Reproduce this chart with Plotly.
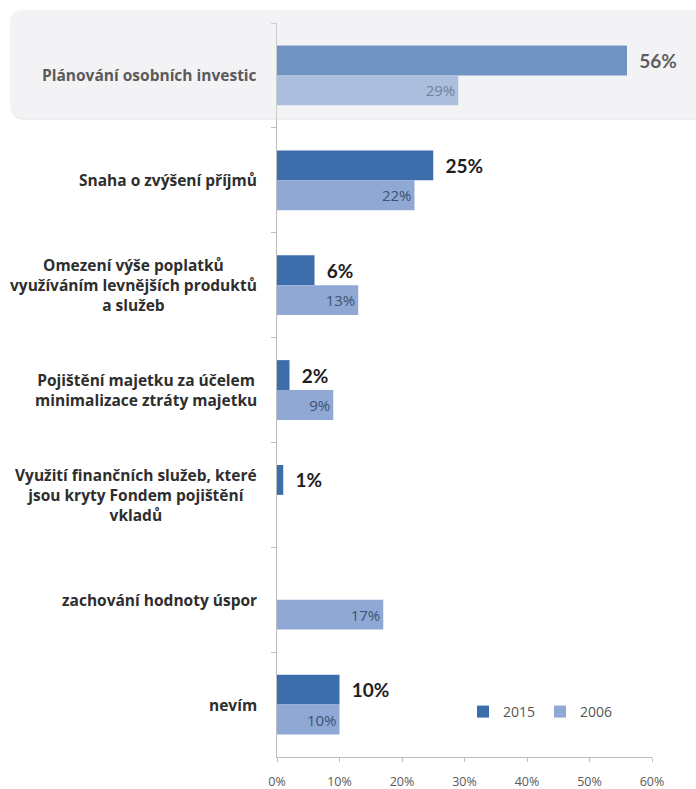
import plotly.graph_objects as go

# Survey answers (category labels, top to bottom)
categories = [
    "Plánování osobních investic",
    "Snaha o zvýšení příjmů",
    "Omezení výše poplatků<br>využíváním levnějších produktů<br>a služeb",
    "Pojištění majetku za účelem<br>minimalizace ztráty majetku",
    "Využití finančních služeb, které<br>jsou kryty Fondem pojištění<br>vkladů",
    "zachování hodnoty úspor",
    "nevím",
]
# Share of respondents in percent (None = not asked that year)
values_2015 = [56, 25, 6, 2, 1, None, 10]
values_2006 = [29, 22, 13, 9, None, 17, 10]
x_ticks = [0, 10, 20, 30, 40, 50, 60]

W, H = 696, 789
L, R, T, B = 277, 44, 23, 32
PW, PH = W - L - R, H - T - B

FONT = "Lato, 'DejaVu Sans', sans-serif"
LABEL_FONT = "'Open Sans', 'DejaVu Sans', sans-serif"
C2015 = "#3d6eac"
C2006 = "#8fa9d4"


def fx(px):
    return (px - L) / PW


def fy(py):
    return (H - B - py) / PH


def rounded_box(x0, y0, x1, y1, r):
    return (
        f"M {fx(x0 + r)},{fy(y0)} L {fx(x1)},{fy(y0)} L {fx(x1)},{fy(y1)} "
        f"L {fx(x0 + r)},{fy(y1)} Q {fx(x0)},{fy(y1)} {fx(x0)},{fy(y1 - r)} "
        f"L {fx(x0)},{fy(y0 + r)} Q {fx(x0)},{fy(y0)} {fx(x0 + r)},{fy(y0)} Z"
    )


def outside_text(vals):
    return ["\u00a0\u00a0%d%%" % v if v is not None else "" for v in vals]


def inside_text(vals):
    return ["%d%%" % v if v is not None else "" for v in vals]


fig = go.Figure()
fig.add_trace(go.Bar(
    name="2015", y=categories, x=values_2015, orientation="h",
    marker=dict(color=C2015, line=dict(width=0)),
    text=outside_text(values_2015), textposition="outside",
    textfont=dict(family=FONT, size=19, color="#1e1e1e", weight="bold"),
    cliponaxis=False, constraintext="none",
))
fig.add_trace(go.Bar(
    name="2006", y=categories, x=values_2006, orientation="h",
    marker=dict(color=C2006, line=dict(width=0)),
    text=inside_text(values_2006), textposition="inside", insidetextanchor="end",
    textfont=dict(family=LABEL_FONT, size=15, color="#3d5274"),
    constraintext="none",
))

# Highlight panel behind the first answer, with a soft fade over it
shapes = [
    dict(type="path", xref="paper", yref="paper", layer="below",
         path=rounded_box(11, 11, 720, 120, 14),
         fillcolor="#eeeef0", line=dict(width=0)),
    dict(type="path", xref="paper", yref="paper", layer="below",
         path=rounded_box(10, 10, 720, 118, 14),
         fillcolor="#f5f5f7", line=dict(width=0)),
    dict(type="path", xref="paper", yref="paper", layer="above",
         path=rounded_box(10, 10, 720, 118, 14),
         fillcolor="rgba(238,240,246,0.3)", line=dict(width=0)),
]

annotations = []
for i, cat in enumerate(categories):
    annotations.append(dict(
        x=fx(259), xref="paper", y=i, yref="y",
        text=cat, showarrow=False, xanchor="right", yanchor="middle",
        align="center",
        font=dict(family=LABEL_FONT, size=15.5, color="#5a5a5a" if i == 0 else "#2e2e2e",
                  weight="bold"),
    ))

fig.update_layout(
    width=W, height=H,
    margin=dict(l=L, r=R, t=T, b=B, autoexpand=False),
    paper_bgcolor="white", plot_bgcolor="rgba(0,0,0,0)",
    barmode="group", bargap=0.43, bargroupgap=0,
    shapes=shapes, annotations=annotations,
    legend=dict(orientation="h", x=fx(463), y=fy(712), xanchor="left", yanchor="middle",
                font=dict(family=LABEL_FONT, size=14, color="#555555"),
                bgcolor="rgba(0,0,0,0)", itemwidth=30, traceorder="normal"),
    showlegend=True,
)
fig.update_xaxes(
    range=[0, 60], tickvals=x_ticks, ticktext=["%d%%" % t for t in x_ticks],
    showgrid=False, zeroline=False, automargin=False,
    showline=True, linecolor="#bdbdbd", linewidth=1,
    ticks="outside", ticklen=4, tickcolor="#bdbdbd", ticklabelstandoff=9,
    tickfont=dict(family=LABEL_FONT, size=12.5, color="#595959"),
)
fig.update_yaxes(
    autorange="reversed", showticklabels=False, showgrid=False, zeroline=False,
    automargin=False,
    showline=True, linecolor="#bdbdbd", linewidth=1,
    ticks="outside", tickson="boundaries", ticklen=5, tickcolor="#bdbdbd",
)

fig.write_html("out.html")
